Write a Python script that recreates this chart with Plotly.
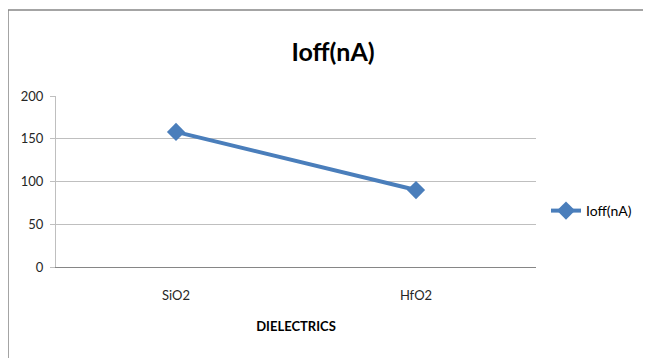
import plotly.graph_objects as go

categories = ["SiO2", "HfO2"]
ioff_values = [158, 90]
series_name = "Ioff(nA)"
y_ticks = [0, 50, 100, 150, 200]

FONT = "Lato, Carlito, Calibri, sans-serif"
BLUE = "#4a7ebb"

OFF = 8  # page body margin
L, R, T, B = 56 - OFF, 536 - OFF, 96 - OFF, 267 - OFF
W, H = 651 - OFF, 358 - OFF
pw, ph = R - L, B - T

def px(x):
    return (x - OFF - L) / pw

def py(y):
    return (B - (y - OFF)) / ph

fig = go.Figure()
fig.add_trace(go.Scatter(
    x=categories, y=ioff_values, name=series_name, mode="lines+markers",
    line=dict(color=BLUE, width=4),
    marker=dict(symbol="diamond", size=14, color=BLUE),
))

frame = dict(color="#868686", width=1.5)
fig.update_layout(
    width=W, height=H,
    margin=dict(l=L, r=W - R, t=T, b=H - B),
    paper_bgcolor="white", plot_bgcolor="white",
    font=dict(family=FONT, size=13, color="#262626"),
    title=dict(text="<b>Ioff(nA)</b>", x=px(333), xref="paper", xanchor="center",
               y=1 - (52 - OFF) / H, yanchor="middle", font=dict(size=25, color="black", family=FONT)),
    xaxis=dict(type="category", range=[-0.5, 1.5], showgrid=False,
               showline=True, linecolor="#868686", linewidth=1,
               ticks="", tickfont=dict(size=13), ticklabelstandoff=16,
               title=dict(text="<b>DIELECTRICS</b>", font=dict(size=13, color="black"), standoff=20)),
    yaxis=dict(range=[0, 200], tickvals=y_ticks, showgrid=True, gridcolor="#bfbfbf", gridwidth=1,
               showline=True, linecolor="#bfbfbf", linewidth=1, zeroline=False,
               ticks="outside", ticklen=5, tickcolor="#bfbfbf", tickfont=dict(size=13),
               ticklabelstandoff=4),
    showlegend=True,
    legend=dict(x=px(546), xanchor="left", y=py(211), yanchor="middle",
                font=dict(size=14, color="black"), bgcolor="rgba(0,0,0,0)",
                itemwidth=30),
    shapes=[
        dict(type="line", xref="paper", yref="paper", x0=px(8), x1=px(720), y0=py(10), y1=py(10), line=frame),
        dict(type="line", xref="paper", yref="paper", x0=px(8), x1=px(8), y0=py(10), y1=py(420), line=frame),
    ],
)

fig.write_html("out.html")
